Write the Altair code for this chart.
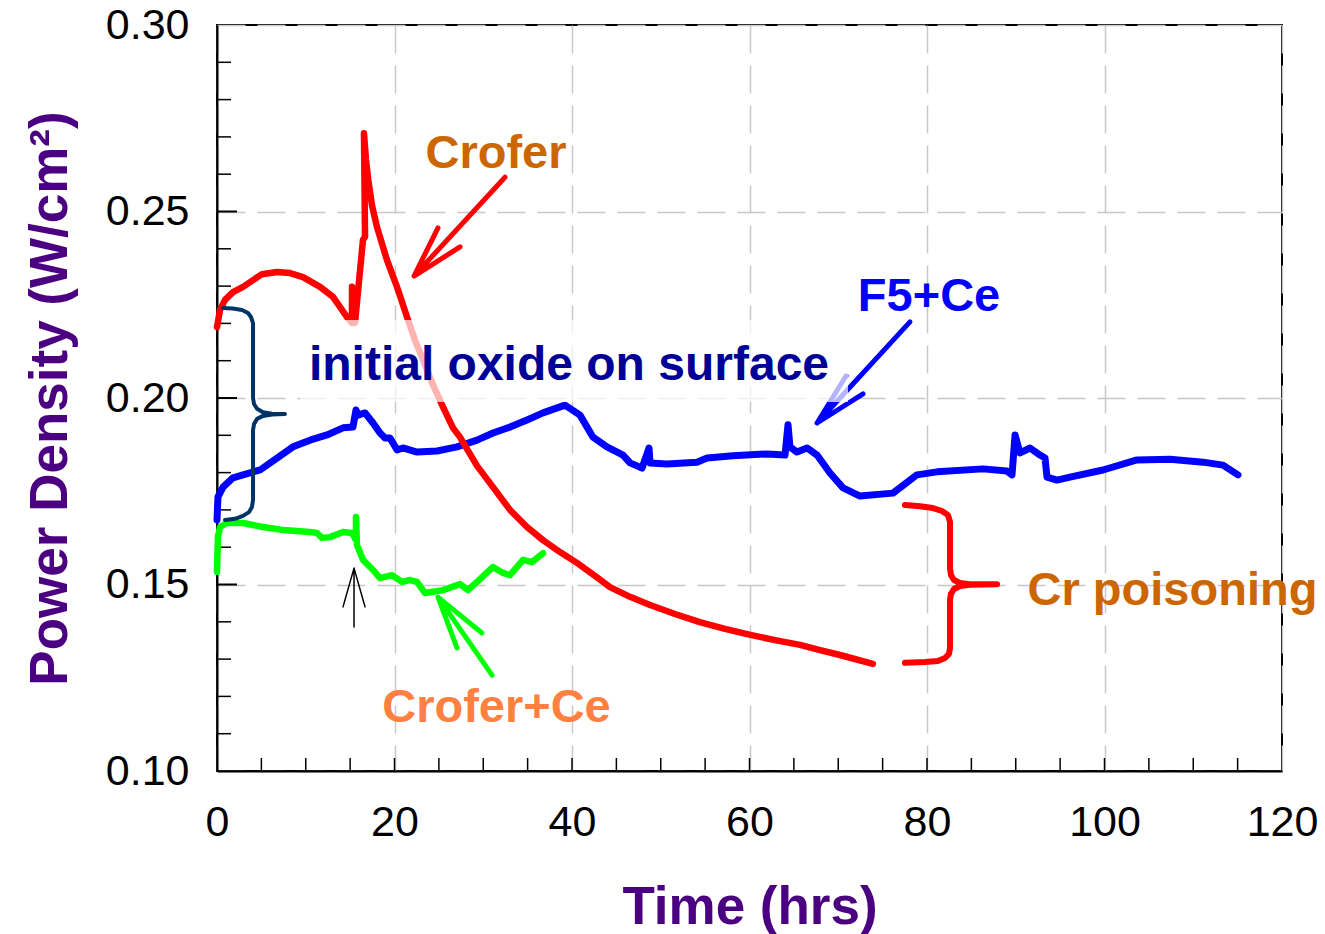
import altair as alt
import pandas as pd

# ---------------- data ----------------
crofer_t = [0.0, 0.34, 0.90, 1.80, 2.93, 4.06, 5.07, 6.76, 8.23, 9.69, 11.61, 13.07, 14.65,
            15.21, 15.21, 15.55, 16.45, 16.68, 16.56, 16.79, 17.05, 17.46, 18.03, 19.15, 20.28,
            21.41, 22.31, 23.21, 24.34, 25.46, 26.59, 27.38, 29.30, 31.10, 33.01, 34.93, 36.73,
            38.65, 40.56, 42.59, 44.28, 46.54, 48.8, 51.6, 54.4, 57.24, 60.1, 62.87, 65.7,
            67.94, 70.2, 73.9]
crofer_p = [0.2190, 0.2236, 0.2263, 0.2284, 0.2298, 0.2316, 0.2332, 0.2338, 0.2335, 0.2324,
            0.2298, 0.2271, 0.2217, 0.2201, 0.2298, 0.2201, 0.2424, 0.2432, 0.2710, 0.2638,
            0.2584, 0.2517, 0.2458, 0.2370, 0.2298, 0.2217, 0.2155, 0.2102, 0.2035, 0.1976,
            0.1920, 0.1895, 0.1818, 0.1761, 0.1700, 0.1654, 0.1619, 0.1587, 0.1558, 0.1523,
            0.1493, 0.1467, 0.1445, 0.1421, 0.1399, 0.1381, 0.1365, 0.1351, 0.1338, 0.1324,
            0.1311, 0.1287]

f5ce_t = [0.0, 0.11, 0.68, 1.80, 2.93, 4.85, 6.76, 8.56, 10.48, 12.39, 14.20, 15.32, 15.66,
          15.89, 16.68, 17.58, 18.37, 18.93, 19.49, 20.28, 20.96, 22.54, 24.79, 27.04, 29.30,
          31.10, 33.01, 34.93, 36.73, 39.21, 40.90, 42.37, 43.94, 45.75, 46.54, 47.89, 48.68,
          48.79, 50.70, 54.08, 55.21, 58.14, 61.97, 64.0, 64.34, 64.56, 65.35, 66.48, 67.61,
          69.07, 70.54, 72.45, 76.17, 78.87, 81.13, 86.31, 89.01, 89.58, 89.92, 90.48, 91.61,
          92.73, 93.30, 93.52, 94.65, 96.11, 99.83, 103.66, 107.38, 111.10, 113.35, 115.04]
f5ce_p = [0.1673, 0.1735, 0.1761, 0.1786, 0.1794, 0.1807, 0.1839, 0.1869, 0.1887, 0.1901,
          0.1920, 0.1922, 0.1968, 0.1954, 0.1960, 0.1933, 0.1906, 0.1893, 0.1893, 0.1861,
          0.1866, 0.1855, 0.1858, 0.1869, 0.1887, 0.1906, 0.1922, 0.1941, 0.1960, 0.1981,
          0.1954, 0.1895, 0.1869, 0.1847, 0.1826, 0.1812, 0.1866, 0.1826, 0.1823, 0.1828,
          0.1839, 0.1845, 0.1850, 0.1847, 0.1928, 0.1869, 0.1855, 0.1866, 0.1847, 0.1799,
          0.1759, 0.1737, 0.1745, 0.1794, 0.1802, 0.1810, 0.1804, 0.1794, 0.1901, 0.1853,
          0.1866, 0.1847, 0.1839, 0.1788, 0.1780, 0.1788, 0.1807, 0.1834, 0.1836, 0.1828,
          0.1820, 0.1794]

croferce_t = [0.0, 0.10, 0.34, 1.13, 2.93, 5.18, 7.44, 10.48, 11.27, 11.83, 12.73, 14.20,
              15.21, 15.66, 15.66, 15.77, 16.45, 17.58, 18.37, 19.72, 20.85, 21.75, 22.54,
              23.44, 25.46, 27.38, 28.28, 29.30, 31.10, 32.23, 33.01, 34.48, 35.49, 36.73]
croferce_p = [0.1534, 0.1627, 0.1654, 0.1665, 0.1665, 0.1654, 0.1646, 0.1641, 0.1638, 0.1625,
              0.1627, 0.1641, 0.1638, 0.1619, 0.1681, 0.1606, 0.1566, 0.1539, 0.1517, 0.1525,
              0.1507, 0.1512, 0.1507, 0.1477, 0.1485, 0.1501, 0.1485, 0.1507, 0.1547, 0.1531,
              0.1525, 0.1566, 0.1560, 0.1584]

# annotation shapes (data units)
brace_oxide_t = [0.68, 1.80, 2.82, 3.49, 3.83, 4.06, 4.06, 4.17, 4.51, 5.18, 6.20, 7.66, 6.20,
                 5.18, 4.51, 4.17, 4.06, 4.06, 3.94, 3.61, 2.93, 2.03, 0.90]
brace_oxide_p = [0.2241, 0.2240, 0.2236, 0.2228, 0.2217, 0.2201, 0.2000, 0.1984, 0.1971, 0.1962,
                 0.1958, 0.1957, 0.1956, 0.1952, 0.1944, 0.1930, 0.1914, 0.1727, 0.1708, 0.1694,
                 0.1684, 0.1676, 0.1673]
brace_cr_t = [77.52, 79.21, 80.68, 81.69, 82.37, 82.59, 82.59, 82.70, 83.04, 83.72, 84.85, 87.89,
              84.85, 83.72, 83.04, 82.70, 82.59, 82.59, 82.48, 82.03, 81.24, 79.77, 77.52]
brace_cr_p = [0.1713, 0.1710, 0.1705, 0.1697, 0.1686, 0.1668, 0.1544, 0.1525, 0.1512, 0.1504,
              0.1501, 0.1501, 0.1499, 0.1496, 0.1488, 0.1475, 0.1458, 0.1330, 0.1314, 0.1303,
              0.1295, 0.1292, 0.1290]
# arrows: tail -> tip -> head1 -> tip -> head2
arrow_crofer_t = [32.45, 22.20, 24.90, 22.20, 27.38]
arrow_crofer_p = [0.2592, 0.2327, 0.2456, 0.2327, 0.2405]
arrow_f5_t = [78.08, 67.61, 70.87, 67.61, 72.79]
arrow_f5_p = [0.2204, 0.1933, 0.2059, 0.1933, 0.2011]
arrow_ce_t = [30.99, 24.90, 27.04, 24.90, 29.86]
arrow_ce_p = [0.1257, 0.1466, 0.1330, 0.1466, 0.1370]
arrow_blk_t = [15.44, 15.44, 14.20, 15.44, 16.68]
arrow_blk_p = [0.1386, 0.1544, 0.1440, 0.1544, 0.1440]

label_text = ["Crofer", "F5+Ce", "initial oxide on surface", "Cr poisoning", "Crofer+Ce"]
label_t = [31.44, 80.23, 39.66, 107.66, 31.49]
label_p = [0.2617, 0.2233, 0.2048, 0.1445, 0.1131]
label_color = ["#CC6600", "#0000FF", "#000099", "#CC6600", "#FF8040"]
label_size = [47, 47, 48, 47, 47]

box_t = [9.35, 71.1]
box_p = [0.1989, 0.2209]

x_ticks = [0, 20, 40, 60, 80, 100, 120]
y_ticks = [0.10, 0.15, 0.20, 0.25, 0.30]
x_minor = [v for v in range(5, 120, 5)]
y_minor = [round(0.10 + 0.01 * k, 2) for k in range(1, 20) if k % 5 != 0]
y_major = [0.15, 0.20, 0.25]

# ---------------- chart ----------------
xs = alt.Scale(domain=[0, 120], nice=False, zero=False)
ys = alt.Scale(domain=[0.10, 0.30], nice=False, zero=False)

TITLE_COLOR = "#4B0082"
xaxis = alt.Axis(values=x_ticks, title="Time (hrs)", labelFont="Liberation Sans",
                 labelFontSize=43, labelColor="black", labelPadding=30, labelFlush=False,
                 labelOverlap=False, ticks=False, tickSize=0, domainColor="black", domainWidth=2,
                 grid=True, gridColor="#c8c8c8", gridDash=[28, 12], gridWidth=1.5,
                 titleFont="Liberation Sans", titleFontSize=53, titleFontWeight="bold",
                 titleColor=TITLE_COLOR, titleY=152, titleBaseline="alphabetic")
yaxis = alt.Axis(values=y_ticks, format=".2f", title="Power Density (W/cm²)",
                 labelFont="Liberation Sans", labelFontSize=43, labelColor="black",
                 labelPadding=28, labelFlush=False, labelOverlap=False, ticks=False, tickSize=0,
                 domainColor="black", domainWidth=2, grid=True, gridColor="#c8c8c8",
                 gridDash=[28, 12], gridWidth=1.5, titleFont="Liberation Sans",
                 titleFontSize=53, titleFontWeight="bold", titleColor=TITLE_COLOR,
                 titleAngle=270, titleX=-151, titleY=373, titleBaseline="alphabetic",
                 titleAlign="center")

X = lambda f="x": alt.X(f"{f}:Q", scale=xs, axis=xaxis)
Y = lambda f="y": alt.Y(f"{f}:Q", scale=ys, axis=yaxis)


def df(t, p, name="s"):
    return pd.DataFrame({"x": t, "y": p, "i": list(range(len(t))), "g": name})


def line(t, p, color, width, name="s"):
    return alt.Chart(df(t, p, name)).mark_line(
        color=color, strokeWidth=width, strokeCap="round", strokeJoin="round"
    ).encode(x=X(), y=Y(), order="i:Q")


xt_minor = alt.Chart(pd.DataFrame({"v": x_minor})).mark_rule(color="black", strokeWidth=1.5).encode(
    x=alt.X("v:Q", scale=xs, axis=xaxis), y=alt.value(746), y2=alt.value(733))
yt_minor = alt.Chart(pd.DataFrame({"v": y_minor})).mark_rule(color="black", strokeWidth=1.5).encode(
    y=alt.Y("v:Q", scale=ys, axis=yaxis), x=alt.value(0), x2=alt.value(14))
yt_major = alt.Chart(pd.DataFrame({"v": y_major})).mark_rule(color="black", strokeWidth=2).encode(
    y=alt.Y("v:Q", scale=ys, axis=yaxis), x=alt.value(0), x2=alt.value(20))

blue = line(f5ce_t, f5ce_p, "#0000FF", 7)
green = line(croferce_t, croferce_p, "#00FF00", 6.5)
red = line(crofer_t, crofer_p, "#FF0000", 6.5)

brace1 = line(brace_oxide_t, brace_oxide_p, "#003366", 4)
brace2 = line(brace_cr_t, brace_cr_p, "#FF0000", 6)
arr1 = line(arrow_crofer_t, arrow_crofer_p, "#FF0000", 5)
arr2 = line(arrow_f5_t, arrow_f5_p, "#0000FF", 5)
arr3 = line(arrow_ce_t, arrow_ce_p, "#00FF00", 5)
arr4 = line(arrow_blk_t, arrow_blk_p, "#000000", 1.5)

box = alt.Chart(pd.DataFrame({"x": [box_t[0]], "x2": [box_t[1]], "y": [box_p[0]], "y2": [box_p[1]]})).mark_rect(
    color="white", opacity=0.7).encode(x=X(), x2="x2:Q", y=Y(), y2="y2:Q")

labels = alt.Chart(pd.DataFrame({"x": label_t, "y": label_p, "t": label_text, "c": label_color,
                                 "s": label_size})).mark_text(
    font="Liberation Sans", fontWeight="bold", align="center", baseline="alphabetic"
).encode(x=X(), y=Y(), text="t:N", color=alt.Color("c:N", scale=None),
         size=alt.Size("s:Q", scale=None))

chart = alt.layer(
    xt_minor, yt_minor, yt_major, blue, green, red, brace1, brace2, arr1, arr2, arr3, arr4, box, labels
).properties(
    width=1065, height=746,
    autosize=alt.AutoSizeParams(type="none"),
    padding={"left": 217, "top": 25, "right": 43, "bottom": 163},
    background="white",
).configure_view(stroke="black", strokeWidth=2)

chart.save("out.html", embed_options={"renderer": "svg", "actions": False})
